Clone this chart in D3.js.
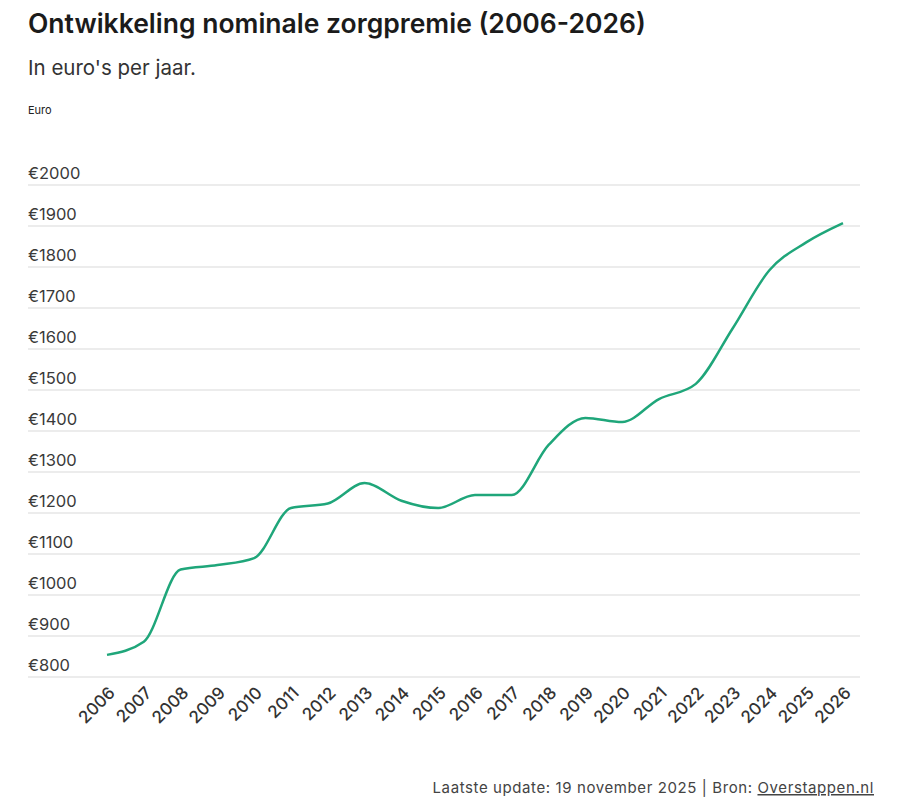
<!DOCTYPE html>
<html>
<head>
<meta charset="utf-8">
<script src="https://cdn.jsdelivr.net/npm/d3@7"></script>
<style>
  body { margin: 0; background: #fff; }
  text { font-family: Inter, "Noto Sans", sans-serif; }
</style>
</head>
<body>
<svg id="chart" width="900" height="812"></svg>
<script>
const years = d3.range(2006, 2027);
const premie = [854, 886, 1062, 1073, 1090, 1212, 1223, 1273, 1230, 1212, 1244,
    1244, 1366, 1432, 1422, 1478, 1515, 1650, 1792, 1860, 1907];
const yTicks = [800, 900, 1000, 1100, 1200, 1300, 1400, 1500, 1600, 1700, 1800, 1900, 2000];

const svg = d3.select("#chart");

const x = d3.scalePoint().domain(years).range([107, 843]);
const y = d3.scaleLinear().domain([800, 2000]).range([677, 185]);

svg.append("text")
    .attr("x", 28).attr("y", 33)
    .attr("font-size", 26.5).attr("font-weight", 600).attr("fill", "#1b1b1b")
    .text("Ontwikkeling nominale zorgpremie (2006-2026)");

svg.append("text")
    .attr("x", 28).attr("y", 75)
    .attr("font-size", 20.5).attr("fill", "#333")
    .text("In euro's per jaar.");

svg.append("text")
    .attr("x", 28).attr("y", 114)
    .attr("font-size", 11).attr("fill", "#222")
    .text("Euro");

// gridlines + labels above them
const grid = svg.append("g")
    .selectAll("g")
    .data(yTicks)
    .enter()
    .append("g")
    .attr("transform", d => `translate(0, ${y(d)})`);

grid.append("line")
    .attr("x1", 28).attr("x2", 860)
    .attr("stroke", "#d9d9d9").attr("stroke-width", 1);

grid.append("text")
    .attr("x", 28).attr("y", -6)
    .attr("font-size", 16.5).attr("fill", "#3a3a3a")
    .text(d => "€" + d);

// x labels, rotated
svg.append("g")
    .selectAll("text")
    .data(years)
    .enter()
    .append("text")
    .attr("text-anchor", "end")
    .attr("font-size", 17).attr("font-weight", 500).attr("fill", "#333")
    .attr("transform", d => `translate(${x(d) + 9}, ${694}) rotate(-45)`)
    .text(d => d);

const line = d3.line()
    .x((d, i) => x(years[i]))
    .y(d => y(d))
    .curve(d3.curveMonotoneX);

svg.append("path")
    .datum(premie)
    .attr("d", line)
    .attr("fill", "none")
    .attr("stroke", "#1fa67a")
    .attr("stroke-width", 2.5);

const foot = svg.append("text")
    .attr("x", 874).attr("y", 793)
    .attr("text-anchor", "end")
    .attr("font-size", 15).attr("letter-spacing", 0.6).attr("fill", "#444");
foot.append("tspan").text("Laatste update:  19 november 2025 | Bron: ");
foot.append("tspan").attr("text-decoration", "underline").text("Overstappen.nl");
</script>
</body>
</html>
